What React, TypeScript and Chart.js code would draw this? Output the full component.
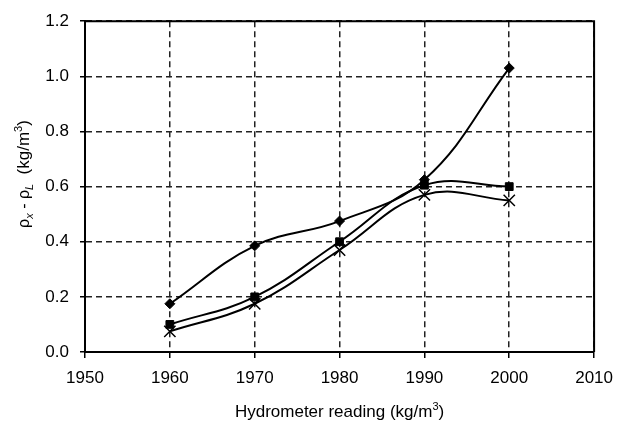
import React, { useEffect, useRef } from "react";
import { Chart, registerables } from "chart.js";

Chart.register(...registerables);

// ---- Data ----
const years = [1960, 1970, 1980, 1990, 2000];
const seriesDiamond = [0.175, 0.385, 0.475, 0.625, 1.03];
const seriesSquare = [0.1, 0.2, 0.4, 0.605, 0.6];
const seriesCross = [0.075, 0.175, 0.37, 0.57, 0.55];

const xMin = 1950;
const xMax = 2010;
const xStep = 10;
const yMin = 0;
const yMax = 1.2;
const yStep = 0.2;

const FONT = '"Liberation Sans", Arial, Helvetica, sans-serif';

type Part = { t: string; size: number; dy?: number; italic?: boolean };

const xTitleParts: Part[] = [
  { t: "Hydrometer reading (kg/m", size: 17 },
  { t: "3", size: 11, dy: -7 },
  { t: ")", size: 17 },
];

const yTitleParts: Part[] = [
  { t: "ρ", size: 16 },
  { t: "x", size: 11, dy: 4, italic: true },
  { t: " - ", size: 16 },
  { t: "ρ", size: 16 },
  { t: "L", size: 11, dy: 4, italic: true },
  { t: "  (kg/m", size: 17 },
  { t: "3", size: 11, dy: -7 },
  { t: ")", size: 17 },
];

function fontOf(p: Part) {
  return `${p.italic ? "italic " : ""}${p.size}px ${FONT}`;
}

function drawParts(ctx: CanvasRenderingContext2D, parts: Part[], cx: number, baseY: number) {
  let total = 0;
  for (const p of parts) {
    ctx.font = fontOf(p);
    total += ctx.measureText(p.t).width;
  }
  let x = cx - total / 2;
  ctx.textAlign = "left";
  ctx.textBaseline = "alphabetic";
  ctx.fillStyle = "#000";
  for (const p of parts) {
    ctx.font = fontOf(p);
    ctx.fillText(p.t, x, baseY + (p.dy || 0));
    x += ctx.measureText(p.t).width;
  }
}

const framePlugin = {
  id: "frameAndTitles",
  afterDraw(chart: any) {
    const { ctx, chartArea: a } = chart;
    ctx.save();
    ctx.strokeStyle = "#000";
    ctx.lineWidth = 2;
    ctx.setLineDash([]);
    ctx.beginPath();
    ctx.moveTo(a.left, a.top);
    ctx.lineTo(a.right, a.top);
    ctx.lineTo(a.right, a.bottom);
    ctx.stroke();

    // x title
    drawParts(ctx, xTitleParts, (a.left + a.right) / 2, 417);

    // y title (rotated)
    ctx.save();
    ctx.translate(29, 174);
    ctx.rotate(-Math.PI / 2);
    drawParts(ctx, yTitleParts, 0, 0);
    ctx.restore();

    ctx.restore();
  },
};

function toXY(vals: number[]) {
  return years.map((yr, i) => ({ x: yr, y: vals[i] }));
}

export default function App() {
  const ref = useRef<HTMLCanvasElement | null>(null);

  useEffect(() => {
    if (!ref.current) return;
    const common = {
      borderColor: "#000",
      backgroundColor: "#000",
      borderWidth: 2,
      tension: 0.4,
      fill: false,
      pointBackgroundColor: "#000",
      pointBorderColor: "#000",
    };
    const chart = new Chart(ref.current, {
      type: "line",
      data: {
        datasets: [
          {
            ...common,
            data: toXY(seriesDiamond),
            pointStyle: "rectRot",
            pointRadius: 5,
            pointBorderWidth: 1,
          },
          {
            ...common,
            data: toXY(seriesSquare),
            pointStyle: "rect",
            pointRadius: 5.5,
            pointBorderWidth: 1,
          },
          {
            ...common,
            data: toXY(seriesCross),
            pointStyle: "crossRot",
            pointRadius: 8,
            pointBorderWidth: 1.5,
          },
        ],
      },
      options: {
        animation: false,
        responsive: false,
        devicePixelRatio: 1,
        layout: { padding: { top: 18, right: 28, left: 0, bottom: 0 } },
        plugins: {
          legend: { display: false },
          tooltip: { enabled: false },
        },
        scales: {
          x: {
            type: "linear",
            position: "bottom",
            min: xMin,
            max: xMax,
            afterFit: (s: any) => {
              s.height = 74;
            },
            ticks: {
              stepSize: xStep,
              color: "#000",
              font: { family: FONT, size: 17 },
              padding: 10,
              callback: (v: any) => String(v),
            },
            grid: {
              color: "#222",
              lineWidth: 1.5,
              tickLength: 6,
              tickColor: "#000",
              tickWidth: 1.5,
              tickBorderDash: [],
            },
            border: { display: true, color: "#000", width: 2, dash: [6, 4] },
          },
          y: {
            type: "linear",
            position: "left",
            min: yMin,
            max: yMax,
            afterFit: (s: any) => {
              s.width = 85;
            },
            ticks: {
              stepSize: yStep,
              color: "#000",
              font: { family: FONT, size: 17 },
              padding: 11,
              callback: (v: any) => Number(v).toFixed(1),
            },
            grid: {
              color: "#222",
              lineWidth: 1.5,
              tickLength: 5,
              tickColor: "#000",
              tickWidth: 1.5,
              tickBorderDash: [],
            },
            border: { display: true, color: "#000", width: 2, dash: [6, 4] },
          },
        },
      },
      plugins: [framePlugin],
    } as any);
    return () => chart.destroy();
  }, []);

  return (
    <div style={{ position: "absolute", left: 0, top: 0, width: 623, height: 426, background: "#fff" }}>
      <canvas ref={ref} width={623} height={426} style={{ display: "block", width: 623, height: 426 }} />
    </div>
  );
}
